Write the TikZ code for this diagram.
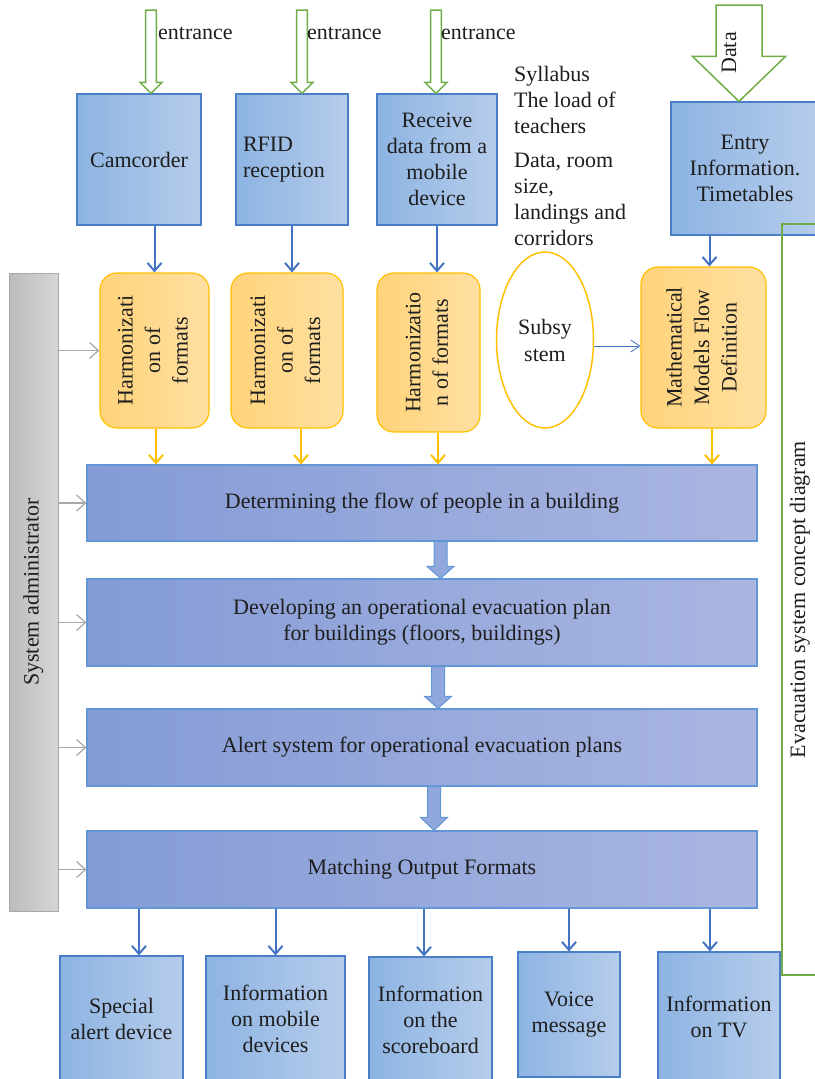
\documentclass[tikz,border=0pt]{standalone}
\usepackage{fontspec}
\setmainfont{Liberation Serif}
\usetikzlibrary{positioning}
\usetikzlibrary{calc}
\usetikzlibrary{arrows.meta}
\usetikzlibrary{shapes.geometric}

\definecolor{boxblue}{RGB}{141,180,226}
\definecolor{boxbluelt}{RGB}{182,204,235}
\definecolor{boxedge}{RGB}{74,126,200}
\definecolor{stageblue}{RGB}{132,155,214}
\definecolor{stagebluelt}{RGB}{170,182,225}
\definecolor{stageedge}{RGB}{98,150,214}
\definecolor{fmtgold}{RGB}{255,211,122}
\definecolor{fmtgoldlt}{RGB}{255,224,162}
\definecolor{gold}{RGB}{255,192,0}
\definecolor{arrblue}{RGB}{68,114,196}
\definecolor{entgreen}{RGB}{112,173,71}
\definecolor{admgray}{RGB}{188,188,188}
\definecolor{admgraylt}{RGB}{214,214,214}
\definecolor{admedge}{RGB}{168,168,168}
\definecolor{fatfill}{RGB}{145,168,220}
\definecolor{ink}{RGB}{30,30,30}

% text turned to read upwards
\newcommand{\vtext}[1]{\rotatebox{90}{\begin{tabular}{@{}c@{}}#1\end{tabular}}}
% hollow block arrow going down: style, from, to, half shaft, half head, head length
\newcommand{\fatarrow}[6]{%
  \draw[#1] let \p1=(#2), \p2=(#3) in
    (\x2-#4,\y1) -- (\x2-#4,\y2+#6) -- (\x2-#5,\y2+#6) -- (\x2,\y2)
    -- (\x2+#5,\y2+#6) -- (\x2+#4,\y2+#6) -- (\x2+#4,\y1) -- cycle;}

\tikzset{
  inbox/.style={draw=boxedge, line width=1.2pt, left color=boxblue,
    right color=boxbluelt, inner sep=0pt, align=center},
  fmtbox/.style={draw=gold, line width=1.2pt, rounded corners=17pt,
    left color=fmtgold, right color=fmtgoldlt, inner sep=0pt,
    font=\fontsize{22}{27.5}\selectfont},
  stagebox/.style={draw=stageedge, line width=1.2pt, left color=stageblue,
    right color=stagebluelt, minimum width=670, inner sep=0pt, align=center},
  adminbar/.style={draw=admedge, line width=1pt, left color=admgray,
    right color=admgraylt, inner sep=0pt},
  bluearr/.style={draw=arrblue, line width=2pt, -{Straight Barb[length=8pt,width=14pt]}},
  goldarr/.style={draw=gold, line width=2pt, -{Straight Barb[length=8pt,width=14pt]}},
  grayarr/.style={draw=admedge, line width=1.2pt, -{Straight Barb[length=9pt,width=16pt]}},
  thinarr/.style={draw=arrblue, line width=0.8pt, -{Straight Barb[length=9pt,width=12pt]}},
  hollow/.style={draw=entgreen, line width=1.5pt, fill=white},
  fat/.style={draw=stageedge, line width=1pt, fill=fatfill}
}

\begin{document}
\begin{tikzpicture}[x=1pt, y=-1pt, text=ink, font=\fontsize{22}{26}\selectfont]
    \useasboundingbox (0,0) rectangle (814,1079);

    % data sources
    \path (139,159.5) node [inbox, minimum width=124, minimum height=131] (cam) {Camcorder};
    \path (292,159.5) node [inbox, minimum width=112, minimum height=131,
	text width=98, align=left] (rfid) {RFID\\reception};
    \path (437,159.5) node [inbox, minimum width=120, minimum height=131] (recv)
	{Receive\\data from a\\mobile\\device};
    \path (745,168.5) node [inbox, minimum width=148, minimum height=133] (entry)
	{Entry\\Information.\\Timetables};

    \coordinate (in1) at (151,10);
    \coordinate (in2) at (302,10);
    \coordinate (in3) at (436,10);
    \fatarrow{hollow}{in1}{in1 |- cam.north}{5.3pt}{11pt}{11pt}
    \fatarrow{hollow}{in2}{in2 |- rfid.north}{5.3pt}{11pt}{11pt}
    \fatarrow{hollow}{in3}{in3 |- recv.north}{5.3pt}{11pt}{11pt}
    \path (158,33) node [anchor=west, inner sep=0] (e1) {entrance};
    \path (307,33) node [anchor=west, inner sep=0] (e2) {entrance};
    \path (441,33) node [anchor=west, inner sep=0] (e3) {entrance};

    \coordinate (dat) at (739,5);
    \fatarrow{hollow}{dat}{dat |- entry.north}{23pt}{46.5pt}{45pt}
    \path (729,53) node (datl) {\rotatebox{90}{Data}};

    \path (514,100) node [anchor=west, align=left, inner sep=0] (syl)
	{Syllabus\\The load of\\teachers};
    \path (514,199) node [anchor=west, align=left, inner sep=0] (room)
	{Data, room\\size,\\landings and\\corridors};

    % format handling
    \path (154.5,350.5) node [fmtbox, minimum width=109, minimum height=155] (h1)
	{\vtext{Harmonizati\\on of\\formats}};
    \path (287,350.5) node [fmtbox, minimum width=112, minimum height=155] (h2)
	{\vtext{Harmonizati\\on of\\formats}};
    \path (428.5,352.5) node [fmtbox, minimum width=103, minimum height=159] (h3)
	{\vtext{Harmonizatio\\n of formats}};
    \path (545,340) node [ellipse, draw=gold, line width=1.5pt, fill=white,
	minimum width=97, minimum height=176, inner sep=0, align=center,
	font=\fontsize{22}{27}\selectfont] (sub) {Subsy\\stem};
    \path (703.5,347.5) node [fmtbox, minimum width=125, minimum height=161] (h4)
	{\vtext{Mathematical\\Models Flow\\Definition}};

    \draw [bluearr] (h1.north |- cam.south) -- (h1.north);
    \draw [bluearr] (rfid.south) -- (rfid.south |- h2.north);
    \draw [bluearr] (recv.south) -- (recv.south |- h3.north);
    \draw [bluearr] ([xshift=6pt]h4.north |- entry.south) -- ([xshift=6pt]h4.north);
    \draw [thinarr] ([yshift=-6pt]sub.east) -- ([yshift=-6pt]sub.east -| h4.west);

    % processing stages
    \path (33.5,592) node [adminbar, minimum width=49, minimum height=638] (adm)
	{\vtext{System administrator}};
    \path (422,503) node [stagebox, minimum height=76] (flow)
	{Determining the flow of people in a building};
    \path (422,622.5) node [stagebox, minimum height=87] (plan)
	{Developing an operational evacuation plan\\for buildings (floors, buildings)};
    \path (422,747.5) node [stagebox, minimum height=77] (alert)
	{Alert system for operational evacuation plans};
    \path (422,869.5) node [stagebox, minimum height=77] (match)
	{Matching Output Formats};

    \draw [goldarr] ([xshift=1.5pt]h1.south) -- ([xshift=1.5pt]h1.south |- flow.north);
    \draw [goldarr] ([xshift=14pt]h2.south) -- ([xshift=14pt]h2.south |- flow.north);
    \draw [goldarr] ([xshift=9.5pt]h3.south) -- ([xshift=9.5pt]h3.south |- flow.north);
    \draw [goldarr] ([xshift=8.5pt]h4.south) -- ([xshift=8.5pt]h4.south |- flow.north);

    \draw [grayarr] (adm.east |- h1.west) -- (h1.west);
    \draw [grayarr] (adm.east |- flow.west) -- (flow.west);
    \draw [grayarr] (adm.east |- plan.west) -- (plan.west);
    \draw [grayarr] (adm.east |- alert.west) -- (alert.west);
    \draw [grayarr] (adm.east |- match.west) -- (match.west);

    \fatarrow{fat}{[xshift=18.5pt]flow.south}{[xshift=18.5pt]plan.north}{6.5pt}{13.5pt}{12pt}
    \fatarrow{fat}{[xshift=16pt]plan.south}{[xshift=16pt]alert.north}{6.5pt}{13.5pt}{12pt}
    \fatarrow{fat}{[xshift=12pt]alert.south}{[xshift=12pt]match.north}{6.5pt}{13.5pt}{13pt}

    % outputs
    \path (121.5,1019) node [inbox, minimum width=123, minimum height=126] (o1)
	{Special\\alert device};
    \path (275.5,1019) node [inbox, minimum width=139, minimum height=126] (o2)
	{Information\\on mobile\\devices};
    \path (430.5,1019.5) node [inbox, minimum width=123, minimum height=125] (o3)
	{Information\\on the\\scoreboard};
    \path (569,1014.5) node [inbox, minimum width=102, minimum height=125] (o4)
	{Voice\\message};
    \path (719,1017) node [inbox, minimum width=122, minimum height=130] (o5)
	{Information\\on TV};

    \draw [bluearr] ([xshift=17.5pt]o1.north |- match.south) -- ([xshift=17.5pt]o1.north);
    \draw [bluearr] (o2.north |- match.south) -- (o2.north);
    \draw [bluearr] ([xshift=-6.5pt]o3.north |- match.south) -- ([xshift=-6.5pt]o3.north);
    \draw [bluearr] (o4.north |- match.south) -- (o4.north);
    \draw [bluearr] ([xshift=-9pt]o5.north |- match.south) -- ([xshift=-9pt]o5.north);

    % frame on the right
    \path (800,599.5) node [draw=entgreen, line width=1.5pt, minimum width=36,
	minimum height=751, inner sep=0] (frame)
	{\vtext{Evacuation system concept diagram}};
\end{tikzpicture}
\end{document}
